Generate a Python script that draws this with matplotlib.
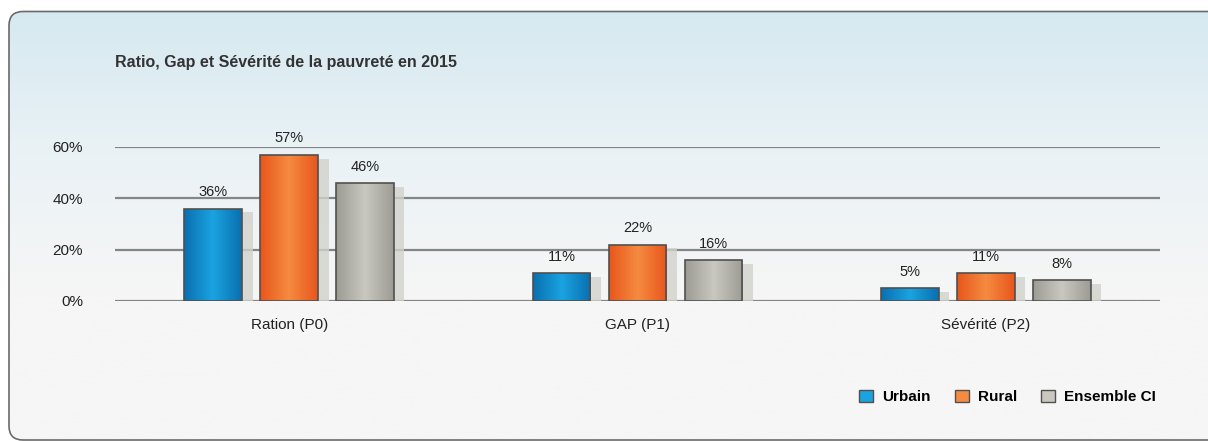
import matplotlib
matplotlib.use("Agg")
import matplotlib.pyplot as plt
import numpy as np
from matplotlib.patches import FancyBboxPatch, Rectangle
from matplotlib.colors import LinearSegmentedColormap

plt.rcParams['font.family'] = ['Liberation Sans Narrow', 'Liberation Sans', 'DejaVu Sans']

categories = ["Ration (P0)", "GAP (P1)", "Sévérité (P2)"]
series = ["Urbain", "Rural", "Ensemble CI"]
urbain = [0.36, 0.11, 0.05]
rural = [0.57, 0.22, 0.11]
ensemble = [0.46, 0.16, 0.08]
labels_urbain = ["36%", "11%", "5%"]
labels_rural = ["57%", "22%", "11%"]
labels_ensemble = ["46%", "16%", "8%"]
yticks = [0, 0.2, 0.4, 0.6]
ytick_labels = ["0%", "20%", "40%", "60%"]
title = "Ratio, Gap et Sévérité de la pauvreté en 2015"

colors = {
    "Urbain": ("#0a6fb0", "#1aa3e0"),
    "Rural": ("#e8561c", "#f58a40"),
    "Ensemble CI": ("#9c9c94", "#c8c8c0"),
}

W, H = 1208, 441
fig = plt.figure(figsize=(W / 100, H / 100), dpi=100)
fig.patch.set_facecolor("white")

# background panel with gradient
bg = fig.add_axes([0, 0, 1, 1])
bg.set_xlim(0, W)
bg.set_ylim(H, 0)
bg.axis("off")
grad = np.linspace(0, 1, 256).reshape(-1, 1)
bgcmap = LinearSegmentedColormap.from_list("bg", ["#d6e9f1", "#eaf2f5", "#f6f6f6", "#f6f6f6"])
panel = FancyBboxPatch((9, 11.5), 1240, 428.5, boxstyle="round,pad=0,rounding_size=14",
                       facecolor="none", edgecolor="#6a6a6a", linewidth=1.2, zorder=3)
bg.add_patch(panel)
im = bg.imshow(grad, extent=(9, 1249, 440, 11.5), cmap=bgcmap, aspect="auto", zorder=1)
im.set_clip_path(panel)

bg.text(115, 62, title, fontsize=11.5, fontweight="bold", color="#333333", va="center", ha="left")

ax = fig.add_axes([115 / W, 1 - 301 / H, (1160 - 115) / W, (301 - 147) / H])
ax.patch.set_alpha(0)
ax.set_xlim(-0.5, 2.5)
ax.set_ylim(0, 0.6)
for s in ax.spines.values():
    s.set_visible(False)
ax.set_yticks(yticks)
ax.set_yticklabels(ytick_labels, fontsize=11, color="#222222")
ax.tick_params(axis="y", length=0, pad=23)
ax.tick_params(axis="x", length=0, pad=12)
ax.set_xticks(range(len(categories)))
ax.set_xticklabels(categories, fontsize=11, color="#222222")
for yv in yticks:
    ax.axhline(yv, color="#858585", linewidth=1.6, zorder=1)

x = np.arange(len(categories))
width = 0.166
offset = 0.218
hgrad = np.concatenate([np.linspace(0, 1, 64), np.linspace(1, 0, 64)]).reshape(1, -1)

for i, (name, vals, labs) in enumerate([("Urbain", urbain, labels_urbain),
                                         ("Rural", rural, labels_rural),
                                         ("Ensemble CI", ensemble, labels_ensemble)]):
    pos = x + (i - 1) * offset
    cmap = LinearSegmentedColormap.from_list(name, list(colors[name]))
    # shadows
    ax.bar(pos + 0.03, np.array(vals) - 0.015, width=width, color="#d2d2cc", alpha=0.8,
           zorder=2, linewidth=0)
    bars = ax.bar(pos, vals, width=width, color=colors[name][1], edgecolor="#505050",
                  linewidth=1.2, zorder=4, label=name)
    for b in bars:
        x0 = b.get_x()
        h = b.get_height()
        gim = ax.imshow(hgrad, extent=(x0, x0 + b.get_width(), 0, h), cmap=cmap,
                        aspect="auto", zorder=3.5, interpolation="bilinear")
        gim.set_clip_path(b)
        b.set_facecolor("none")
    for p, v, l in zip(pos, vals, labs):
        ax.text(p, v + 0.036, l, ha="center", va="bottom", fontsize=10.5, color="#222222")
ax.set_xlim(-0.5, 2.5)
ax.set_ylim(0, 0.6)

# legend
handles = [Rectangle((0, 0), 1, 1, facecolor=colors[n][1], edgecolor="#505050") for n in series]
leg = fig.legend(handles, series, loc="center right", bbox_to_anchor=(1170 / W, 1 - 397 / H),
                 ncol=3, frameon=False, handlelength=0.9, handleheight=0.9,
                 columnspacing=1.6, handletextpad=0.6, prop={'weight': 'bold', 'size': 11})

fig.savefig("out.png", dpi=100)
